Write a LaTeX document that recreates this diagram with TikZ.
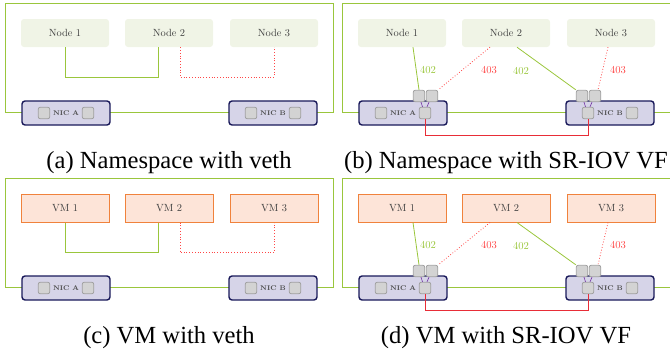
\documentclass[tikz,border=0pt]{standalone}
\usepackage{fontspec}
\usepackage{tikz}
\newfontfamily\capfont{Liberation Serif}
\usetikzlibrary{positioning,calc}
\definecolor{hostgreen}{RGB}{154,198,60}
\definecolor{nsfill}{RGB}{240,244,230}
\definecolor{vmfill}{RGB}{253,228,216}
\definecolor{vmorange}{RGB}{240,130,60}
\definecolor{nicfill}{RGB}{214,212,232}
\definecolor{nicblue}{RGB}{25,25,90}
\definecolor{portgrey}{RGB}{211,211,211}
\definecolor{portedge}{RGB}{160,160,160}
\definecolor{vlanred}{RGB}{255,70,70}
\definecolor{wirered}{RGB}{232,45,55}
\definecolor{vfpurple}{RGB}{112,48,160}

\begin{document}
\begin{tikzpicture}[x=1pt,y=-1pt,
		  every node/.style={inner sep=0pt},
		  host/.style={draw=hostgreen,line width=0.9pt},
		  nsnode/.style={fill=nsfill,rounded corners=3pt,minimum width=88pt,minimum height=28pt,
		    text=black!75,font=\fontsize{10.4}{12}\selectfont},
		  vmnode/.style={nsnode,draw=vmorange,fill=vmfill,line width=1pt,sharp corners},
		  nic/.style={draw=nicblue,fill=nicfill,line width=1.4pt,rounded corners=3pt,
		    minimum width=88pt,minimum height=24pt,text=black!70,font=\fontsize{6.8}{8}\selectfont\bfseries},
		  port/.style={draw=portedge,fill=portgrey,line width=0.8pt,rounded corners=2pt,minimum size=11.5pt},
		  veth/.style={hostgreen,line width=0.8pt},
		  vlan/.style={vlanred,line width=0.8pt,dotted},
		  wire/.style={wirered,line width=0.9pt},
		  vf/.style={vfpurple,line width=0.6pt},
		  tag/.style={font=\fontsize{10.6}{12}\selectfont},
		  capt/.style={anchor=base,font=\capfont\fontsize{24.6}{29}\selectfont}
		]
			\useasboundingbox (0,0) rectangle (670,351);

			% the four hosts
			\foreach \p/\dx/\dy/\kind/\word/\captext in {
			    a/0/0/nsnode/Node/{(a) Namespace with veth},
			    b/337/0/nsnode/Node/{(b) Namespace with SR-IOV VF},
			    c/0/175/vmnode/VM/{(c) VM with veth},
			    d/337/175/vmnode/VM/{(d) VM with SR-IOV VF}} {
			  \begin{scope}[shift={(\dx,\dy)}]
			    \draw[host] (5,3) rectangle (333,112);
			    % the nodes
			    \foreach \i/\x in {1/65,2/169,3/274}
			      \node[\kind] (\p-n\i) at (\x,33) {\word~\i};
			    % the NICs and their ports
			    \node[nic] (\p-nicA) at (66,113) {NIC A};
			    \node[nic] (\p-nicB) at (273,113) {NIC B};
			    \node[port] (\p-qA) at (44,113) {};
			    \node[port] (\p-pA) at (88,113) {};
			    \node[port] (\p-pB) at (251,113) {};
			    \node[port] (\p-qB) at (295,113) {};
			    \node[capt] (\p-cap) at (169,168.5) {\captext};
			  \end{scope}
			}

			% veth pairs
			\foreach \p in {a,c} {
			  \draw[veth] (\p-n1.south) -- ++(0,30) -| ([xshift=-11pt]\p-n2.south);
			  \draw[vlan] ([xshift=11pt]\p-n2.south) -- ++(0,30) -| (\p-n3.south);
			}

			% SR-IOV virtual functions
			\foreach \p/\dx/\dy in {b/337/0,d/337/175} {
			  \node[port] (\p-vA1) at ([shift={(-6,-17)}]\p-pA) {};
			  \node[port] (\p-vA2) at ([shift={(7,-17)}]\p-pA) {};
			  \node[port] (\p-vB1) at ([shift={(-6,-17)}]\p-pB) {};
			  \node[port] (\p-vB2) at ([shift={(7,-17)}]\p-pB) {};
			  \draw[vf] ([xshift=2pt]\p-vA1.south) -- ([xshift=-2.5pt]\p-pA.north);
			  \draw[vf] ([xshift=-3pt]\p-vA2.south) -- ([xshift=2pt]\p-pA.north);
			  \draw[vf] ([xshift=2pt]\p-vB1.south) -- ([xshift=-2.5pt]\p-pB.north);
			  \draw[vf] ([xshift=-3pt]\p-vB2.south) -- ([xshift=2pt]\p-pB.north);

			  % the vlans
			  \draw[veth] ([xshift=11pt]\p-n1.south) -- (\p-vA1.north);
			  \draw[vlan] ([xshift=-16pt]\p-n2.south) -- (\p-vA2.north east);
			  \draw[veth] ([xshift=11pt]\p-n2.south) -- (\p-vB1.north west);
			  \draw[vlan] ([xshift=-3pt]\p-n3.south) -- ([xshift=3pt]\p-vB2.north);
			  \begin{scope}[shift={(\dx,\dy)}]
			    \node[tag,hostgreen] (\p-t1) at (91,70) {402};
			    \node[tag,vlanred] (\p-t2) at (152,70) {403};
			    \node[tag,hostgreen] (\p-t3) at (184,71) {402};
			    \node[tag,vlanred] (\p-t4) at (281,70) {403};
			  \end{scope}

			  % the cable between the NICs
			  \draw[wire] (\p-pA.south) -- ++(0,16.5) -| (\p-pB.south);
			}

		\end{tikzpicture}
\end{document}
